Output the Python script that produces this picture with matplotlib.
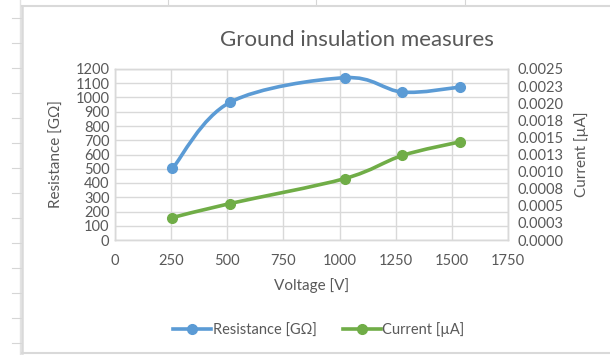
import numpy as np
import matplotlib
matplotlib.use('Agg')
import matplotlib.pyplot as plt
from matplotlib.path import Path
from matplotlib.patches import PathPatch
from matplotlib.lines import Line2D

plt.rcParams['font.family'] = ['Lato', 'DejaVu Sans']

# data
voltage = [256, 512, 1024, 1280, 1536]
resistance = [502, 966, 1139, 1038, 1073]          # GOhm
current = [0.000328, 0.000533, 0.000899, 0.001236, 0.001435]  # uA

x_ticks = [0, 250, 500, 750, 1000, 1250, 1500, 1750]
r_ticks = list(range(0, 1300, 100))
c_ticks = [0.0, 0.00025, 0.0005, 0.00075, 0.001, 0.00125, 0.0015,
           0.00175, 0.002, 0.00225, 0.0025]
c_labels = ['0.0000', '0.0003', '0.0005', '0.0008', '0.0010', '0.0013',
            '0.0015', '0.0018', '0.0020', '0.0023', '0.0025']

blue = '#5B9BD5'
green = '#70AD47'
grey = '#595959'
gridc = '#d9d9d9'


def smooth_path(xs, ys):
    # excel-like smoothed line: catmull-rom converted to cubic bezier
    pts = np.column_stack([xs, ys]).astype(float)
    n = len(pts)
    verts = [pts[0]]
    codes = [Path.MOVETO]
    for i in range(n - 1):
        p0 = pts[i - 1] if i > 0 else pts[i]
        p1 = pts[i]
        p2 = pts[i + 1]
        p3 = pts[i + 2] if i + 2 < n else pts[i + 1]
        c1 = p1 + (p2 - p0) / 6.0
        c2 = p2 - (p3 - p1) / 6.0
        verts += [c1, c2, p2]
        codes += [Path.CURVE4] * 3
    return Path(verts, codes)


fig = plt.figure(figsize=(6.1, 3.55), dpi=100)

# spreadsheet background bits
fig.add_artist(Line2D([20 / 610, 20 / 610], [0, 1], color='#e3e3e3', lw=1.0))
for yy in range(18, 355, 25):
    fig.add_artist(Line2D([12 / 610, 21 / 610], [1 - yy / 355, 1 - yy / 355],
                          color='#d6d6d6', lw=0.8))
for xx in [168, 316, 465]:
    fig.add_artist(Line2D([xx / 610, xx / 610], [1, 1 - 5 / 355], color='#d6d6d6', lw=0.8))
# chart border
fig.add_artist(Line2D([22 / 610, 1, ], [1 - 5.5 / 355, 1 - 5.5 / 355], color='#d9d9d9', lw=1.5))
fig.add_artist(Line2D([22 / 610, 22 / 610], [1 - 5.5 / 355, 1 - 353 / 355], color='#d9d9d9', lw=1.8))
fig.add_artist(Line2D([22 / 610, 1], [1 - 353 / 355, 1 - 353 / 355], color='#d9d9d9', lw=1.5))

ax = fig.add_axes([115 / 610, 1 - 240 / 355, 393 / 610, 171 / 355])
ax2 = ax.twinx()

ax.set_xlim(0, 1750)
ax.set_ylim(0, 1200)
ax2.set_ylim(0, 0.0025)
ax.set_xticks(x_ticks)
ax.set_yticks(r_ticks)
ax2.set_yticks(c_ticks)
ax2.set_yticklabels(c_labels)
ax.grid(True, color=gridc, lw=1.0)
ax.set_axisbelow(True)

for a in (ax, ax2):
    for s in a.spines.values():
        s.set_color(gridc)
        s.set_linewidth(1.0)
    a.tick_params(length=0, labelsize=10.5, labelcolor=grey)
ax.tick_params(axis='y', pad=4)
ax.tick_params(axis='x', pad=10)
ax2.tick_params(axis='y', pad=7)

ax.add_patch(PathPatch(smooth_path(voltage, resistance), fill=False,
                       edgecolor=blue, lw=2.6, capstyle='round', zorder=3))
ax.plot(voltage, resistance, 'o', color=blue, ms=7, zorder=4)
ax2.add_patch(PathPatch(smooth_path(voltage, current), fill=False,
                        edgecolor=green, lw=2.6, capstyle='round', zorder=3))
ax2.plot(voltage, current, 'o', color=green, ms=7, zorder=4)

ax.set_ylabel('Resistance [GΩ]', fontsize=11, color=grey, labelpad=8)
ax2.set_ylabel('Current [µA]', fontsize=11, color=grey, rotation=90, labelpad=7)
ax.set_xlabel('Voltage [V]', fontsize=11, color=grey, labelpad=7)

fig.text(357 / 610, 1 - 40 / 355, 'Ground insulation measures', fontsize=16,
         color=grey, ha='center', va='center')

handles = [Line2D([], [], color=blue, lw=2.6, marker='o', ms=7),
           Line2D([], [], color=green, lw=2.6, marker='o', ms=7)]
fig.legend(handles, ['Resistance [GΩ]', 'Current [µA]'], loc='center',
           bbox_to_anchor=(319 / 610, 1 - 330 / 355), ncol=2, frameon=False,
           fontsize=10.5, labelcolor=grey, handlelength=2.6, handletextpad=0.1,
           columnspacing=1.8)

fig.savefig('out.png', dpi=100)
